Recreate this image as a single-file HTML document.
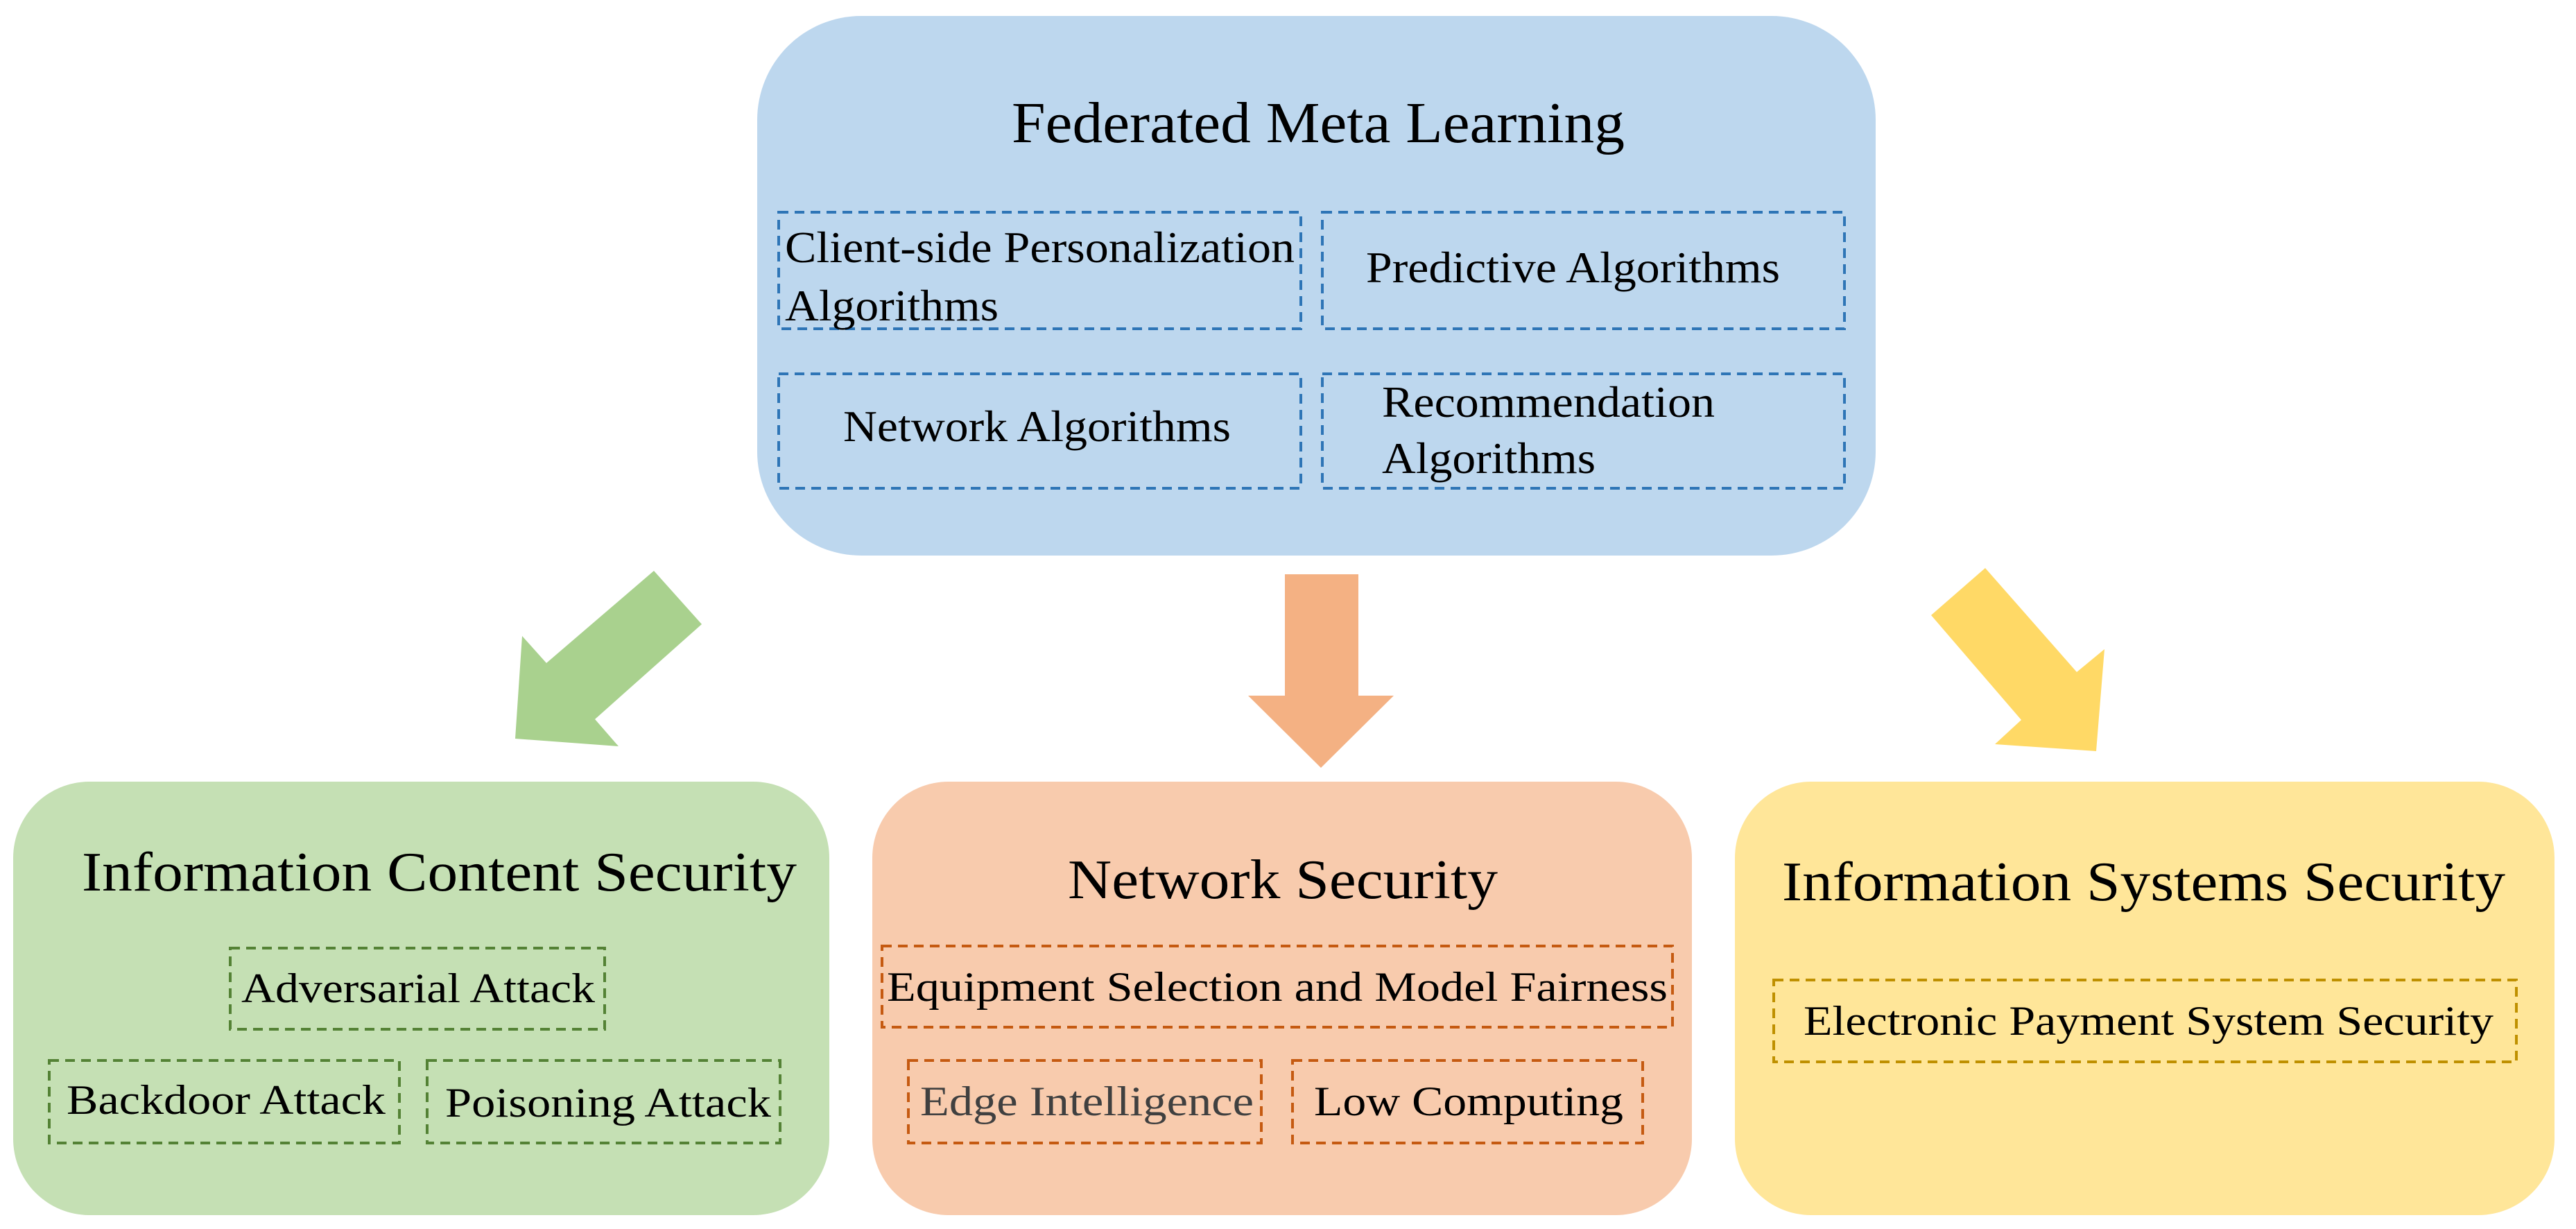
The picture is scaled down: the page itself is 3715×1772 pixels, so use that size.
<!DOCTYPE html>
<html><head><meta charset="utf-8"><style>html,body{margin:0;padding:0;background:#fff}svg{display:block}</style></head>
<body>
<svg width="3715" height="1772" viewBox="0 0 3715 1772" xmlns="http://www.w3.org/2000/svg" font-family="'Liberation Serif', serif">
<rect x="1092" y="23" width="1613" height="778" rx="150" ry="150" fill="#BDD7EE"/>
<text x="1459" y="205" font-size="84" textLength="884" lengthAdjust="spacingAndGlyphs">Federated Meta Learning</text>
<g fill="none" stroke="#2E75B6" stroke-width="4" stroke-dasharray="14 9">
<rect x="1123" y="306" width="753" height="168"/>
<rect x="1907" y="306" width="753" height="168"/>
<rect x="1123" y="539" width="753" height="165"/>
<rect x="1907" y="539" width="753" height="165"/>
</g>
<g font-size="64">
<text x="1132" y="378" textLength="735" lengthAdjust="spacingAndGlyphs">Client-side Personalization</text>
<text x="1132" y="462" textLength="308" lengthAdjust="spacingAndGlyphs">Algorithms</text>
<text x="1970" y="407" textLength="597" lengthAdjust="spacingAndGlyphs">Predictive Algorithms</text>
<text x="1216" y="636" textLength="559" lengthAdjust="spacingAndGlyphs">Network Algorithms</text>
<text x="1993" y="601" textLength="480" lengthAdjust="spacingAndGlyphs">Recommendation</text>
<text x="1993" y="682" textLength="308" lengthAdjust="spacingAndGlyphs">Algorithms</text>
</g>
<polygon fill="#A9D18E" points="943,823 1012,900 858,1037 892,1076 743,1065 753,917 788,956"/>
<polygon fill="#F4B183" points="1853,828 1959,828 1959,1003 2010,1003 1905,1107 1800,1003 1853,1003"/>
<polygon fill="#FFD966" points="2863,819 2785,887 2915,1038 2877,1073 3023,1083 3035,936 2995,969"/>
<rect x="19" y="1127" width="1177" height="625" rx="110" ry="110" fill="#C5E0B4"/>
<rect x="1258" y="1127" width="1182" height="625" rx="110" ry="110" fill="#F8CBAD"/>
<rect x="2502" y="1127" width="1182" height="625" rx="110" ry="110" fill="#FFE699"/>
<g font-size="80">
<text x="118" y="1284" textLength="1031" lengthAdjust="spacingAndGlyphs">Information Content Security</text>
<text x="1540" y="1295" textLength="620" lengthAdjust="spacingAndGlyphs">Network Security</text>
<text x="2570" y="1298" textLength="1043" lengthAdjust="spacingAndGlyphs">Information Systems Security</text>
</g>
<g fill="none" stroke-width="4" stroke-dasharray="14 9">
<g stroke="#548235">
<rect x="332" y="1367" width="540" height="117"/>
<rect x="71" y="1529" width="505" height="119"/>
<rect x="616" y="1529" width="509" height="119"/>
</g>
<g stroke="#C55A11">
<rect x="1272" y="1364" width="1140" height="117"/>
<rect x="1310" y="1529" width="509" height="119"/>
<rect x="1864" y="1529" width="505" height="119"/>
</g>
<g stroke="#BF9000">
<rect x="2558" y="1413" width="1071" height="118"/>
</g>
</g>
<g font-size="60">
<text x="348" y="1445" textLength="510" lengthAdjust="spacingAndGlyphs">Adversarial Attack</text>
<text x="96" y="1606" textLength="460" lengthAdjust="spacingAndGlyphs">Backdoor Attack</text>
<text x="642" y="1610" textLength="470" lengthAdjust="spacingAndGlyphs">Poisoning Attack</text>
<text x="1279" y="1443" textLength="1126" lengthAdjust="spacingAndGlyphs">Equipment Selection and Model Fairness</text>
<text x="1327" y="1608" textLength="481" lengthAdjust="spacingAndGlyphs" fill="#404040">Edge Intelligence</text>
<text x="1895" y="1608" textLength="446" lengthAdjust="spacingAndGlyphs">Low Computing</text>
<text x="2601" y="1492" textLength="995" lengthAdjust="spacingAndGlyphs">Electronic Payment System Security</text>
</g>
</svg>
</body></html>
